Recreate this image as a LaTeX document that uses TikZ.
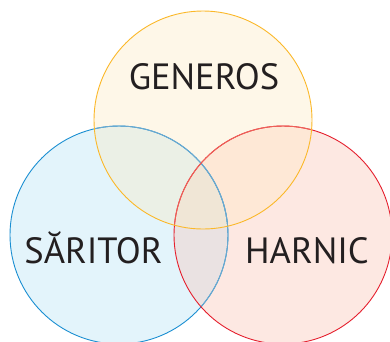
\documentclass[tikz,border=0pt]{standalone}
\usepackage{fontspec}
\setmainfont{PT Sans}
\definecolor{ycol}{HTML}{FEF7E8}
\definecolor{bcol}{HTML}{E3F4FB}
\definecolor{rcol}{HTML}{FDE8E2}
\definecolor{bycol}{HTML}{EBF0E6}
\definecolor{rycol}{HTML}{FEE8D6}
\definecolor{brcol}{HTML}{EAE2E2}
\definecolor{allcol}{HTML}{F0E6D6}
\definecolor{ystroke}{HTML}{FBB829}
\definecolor{bstroke}{HTML}{1B8FD2}
\definecolor{bstrokel}{HTML}{6BA9CF}
\definecolor{rstroke}{HTML}{E5202E}
\definecolor{rstrokel}{HTML}{EE6158}
\definecolor{txt}{HTML}{231F20}
\tikzset{
  ring/.style={line width=0.9pt},
  lab/.style={text=txt, font=\fontsize{36.5}{40}\selectfont, inner sep=0pt, anchor=base}
}
\begin{document}
\begin{tikzpicture}[x=1pt,y=-1pt]
\useasboundingbox (0,0) rectangle (390,341);
\begin{scope}
\clip (0,0) rectangle (390,341);
\def\R{109}
\coordinate (cy) at (203,120);
\coordinate (cb) at (119,235);
\coordinate (cr) at (283,235);
% base fills
\fill[bcol] (cb) circle[radius=\R];
\fill[rcol] (cr) circle[radius=\R];
\fill[ycol] (cy) circle[radius=\R];
% pairwise overlaps
\begin{scope}\clip (cb) circle[radius=\R]; \fill[brcol] (cr) circle[radius=\R];\end{scope}
\begin{scope}\clip (cb) circle[radius=\R]; \fill[bycol] (cy) circle[radius=\R];\end{scope}
\begin{scope}\clip (cr) circle[radius=\R]; \fill[rycol] (cy) circle[radius=\R];\end{scope}
\begin{scope}\clip (cb) circle[radius=\R]; \clip (cr) circle[radius=\R]; \fill[allcol] (cy) circle[radius=\R];\end{scope}
% strokes
\draw[ring, bstroke] (cb) circle[radius=\R];
\begin{scope}\clip (cr) circle[radius=\R]; \draw[ring, bstrokel] (cb) circle[radius=\R];\end{scope}
\begin{scope}\clip (cy) circle[radius=\R]; \draw[ring, bstrokel] (cb) circle[radius=\R];\end{scope}
\draw[ring, rstroke] (cr) circle[radius=\R];
\begin{scope}\clip (cy) circle[radius=\R]; \draw[ring, rstrokel] (cr) circle[radius=\R];\end{scope}
\draw[ring, ystroke] (cy) circle[radius=\R];
\end{scope}
\node[lab] (generos) at (204,89) {GENEROS};
\node[lab] (saritor) at (93.5,263) {SĂRITOR};
\node[lab] (harnic) at (307,263) {HARNIC};
\end{tikzpicture}
\end{document}
